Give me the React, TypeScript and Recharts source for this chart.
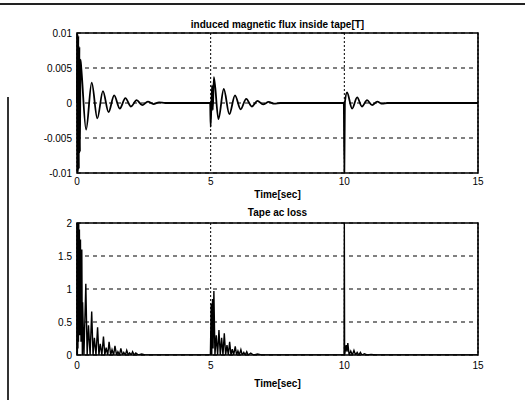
import { LineChart, Line, XAxis, YAxis, CartesianGrid, ReferenceArea } from "recharts";

// induced magnetic flux inside tape [T]
const fluxTime = [
  0, 0.01, 0.03, 0.05, 0.07, 0.09, 0.11, 0.13, 0.16, 0.34, 0.55, 0.76, 0.97, 1.18, 1.39, 1.6, 1.81, 2.02,
  2.23, 2.44, 2.65, 2.86, 3.07, 3.3, 4.98,
  5.0, 5.05, 5.08, 5.12, 5.29, 5.49, 5.7, 5.91, 6.12, 6.33, 6.54, 6.75, 6.96, 7.17, 7.38, 7.6, 9.98,
  10.0, 10.02, 10.1, 10.29, 10.48, 10.66, 10.85, 11.04, 11.23, 11.42, 11.6, 15,
];
const fluxValue = [
  0, 0.0099, -0.0099, 0.0096, -0.0094, 0.008, -0.007, 0.0062, 0.005, -0.0038, 0.0029, -0.0022, 0.0017, -0.0013,
  0.0011, -0.0008, 0.0007, -0.0005, 0.0004, -0.0003, 0.0002, -0.00015, 0.0001, 0, 0,
  -0.0034, 0.0025, -0.001, 0.0037, -0.0023, 0.002, -0.0016, 0.0011, -0.0009, 0.0006, -0.0005, 0.0003, -0.0002,
  0.00015, -0.0001, 0, 0,
  -0.0099, 0, 0.0015, -0.0008, 0.0008, -0.0005, 0.0004, -0.0003, 0.0002, -0.0001, 0, 0,
];

// tape ac loss
const lossTime = [
  0, 0.005, 0.015, 0.025, 0.035, 0.045, 0.055, 0.065, 0.075, 0.09, 0.11, 0.13, 0.15, 0.18, 0.2, 0.21, 0.26,
  0.33, 0.38, 0.43, 0.49, 0.55, 0.6, 0.65, 0.71, 0.77, 0.82, 0.87, 0.93, 0.99, 1.04, 1.09, 1.15, 1.2, 1.26,
  1.31, 1.37, 1.42, 1.48, 1.53, 1.59, 1.64, 1.7, 1.75, 1.81, 1.86, 1.92, 1.97, 2.03, 2.08, 2.14, 2.2, 2.3,
  2.42, 2.55, 4.99,
  5.02, 5.04, 5.07, 5.09, 5.12, 5.16, 5.21, 5.26, 5.31, 5.36, 5.41, 5.46, 5.51, 5.56, 5.61, 5.66, 5.71, 5.76,
  5.81, 5.86, 5.92, 5.97, 6.02, 6.07, 6.13, 6.18, 6.24, 6.29, 6.35, 6.4, 6.5, 6.6, 6.75, 6.9, 9.99,
  10.0, 10.01, 10.07, 10.1, 10.13, 10.18, 10.24, 10.3, 10.36, 10.42, 10.48, 10.54, 10.6, 10.66, 10.75, 10.85,
  11.0, 11.2, 15,
];
const lossValue = [
  0, 2, 0, 2, 0.1, 2, 0.2, 2, 0.3, 1.9, 0.3, 1.75, 0.2, 1.6, 0, 0.8, 0,
  1.08, 0, 0.45, 0, 0.66, 0, 0.26, 0, 0.42, 0, 0.17, 0, 0.28, 0, 0.11, 0, 0.2, 0,
  0.08, 0, 0.14, 0, 0.05, 0, 0.1, 0, 0.04, 0, 0.07, 0, 0.03, 0, 0.05, 0, 0.03, 0,
  0.015, 0, 0,
  0.78, 0, 0.85, 0.1, 0.97, 0, 0.3, 0, 0.38, 0, 0.26, 0, 0.33, 0, 0.15, 0, 0.2, 0,
  0.09, 0, 0.13, 0, 0.06, 0, 0.08, 0, 0.04, 0, 0.05, 0, 0.03, 0, 0.015, 0, 0,
  2, 0, 0.15, 0.05, 0.18, 0, 0.06, 0, 0.07, 0, 0.04, 0, 0.04, 0, 0.02, 0,
  0.01, 0, 0,
];

const timeTicks = [0, 5, 10, 15];
const fluxTicks = [-0.01, -0.005, 0, 0.005, 0.01];
const lossTicks = [0, 0.5, 1, 1.5, 2];

const fluxData = fluxTime.map((t, i) => ({ t, v: fluxValue[i] }));
const lossData = lossTime.map((t, i) => ({ t, v: lossValue[i] }));

const font = "'Liberation Sans', Arial, sans-serif";
const tick = { fill: "#000", fontSize: 10, fontFamily: font };
const fmtFlux = (v: number) => (v === 0.01 ? "0.01" : v === -0.01 ? "-0.01" : String(v));

export default function App() {
  return (
    <div style={{ position: "absolute", left: 0, top: 0, width: 525, height: 400, background: "#fff" }}>
      <div style={{ position: "absolute", left: 0, top: 3, width: 525, height: 2, background: "#222" }} />
      <div style={{ position: "absolute", left: 7, top: 97, width: 2, height: 303, background: "#333" }} />

      <div style={{ position: "absolute", left: 0, top: 0 }}>
        <LineChart width={525} height={200} data={fluxData} margin={{ top: 33, right: 47, bottom: 0, left: 17 }}>
          <CartesianGrid vertical={false} stroke="#000" strokeDasharray="4 4" />
          <CartesianGrid horizontal={false} stroke="#000" strokeDasharray="2 2" />
          <XAxis
            type="number"
            dataKey="t"
            domain={[0, 15]}
            ticks={timeTicks}
            axisLine={false}
            tickLine={false}
            tickSize={4}
            tickMargin={1}
            height={27}
            tick={tick}
            label={{ value: "Time[sec]", position: "insideBottom", offset: 2, fill: "#000", fontSize: 10, fontFamily: font, fontWeight: "bold" }}
          />
          <YAxis
            type="number"
            domain={[-0.01, 0.01]}
            ticks={fluxTicks}
            allowDataOverflow
            axisLine={false}
            tickLine={false}
            tickSize={4}
            tickMargin={1}
            width={60}
            tick={tick}
            tickFormatter={fmtFlux}
          />
          <Line type="monotone" dataKey="v" stroke="#000" strokeWidth={1.8} dot={false} isAnimationActive={false} />
          <ReferenceArea
            x1={0}
            x2={15}
            y1={-0.01}
            y2={0.01}
            fill="none"
            stroke="#000"
            strokeWidth={1.6}
            label={{ value: "induced magnetic flux inside tape[T]", position: "top", offset: 5, fill: "#000", fontSize: 10, fontFamily: font, fontWeight: "bold" }}
          />
        </LineChart>
      </div>

      <div style={{ position: "absolute", left: 0, top: 200 }}>
        <LineChart width={525} height={200} data={lossData} margin={{ top: 23, right: 47, bottom: 13, left: 17 }}>
          <CartesianGrid vertical={false} stroke="#000" strokeDasharray="4 4" />
          <CartesianGrid horizontal={false} stroke="#000" strokeDasharray="2 2" />
          <XAxis
            type="number"
            dataKey="t"
            domain={[0, 15]}
            ticks={timeTicks}
            axisLine={false}
            tickLine={false}
            tickSize={4}
            tickMargin={3}
            height={32}
            tick={tick}
            label={{ value: "Time[sec]", position: "insideBottom", offset: 0, fill: "#000", fontSize: 10, fontFamily: font, fontWeight: "bold" }}
          />
          <YAxis
            type="number"
            domain={[0, 2]}
            ticks={lossTicks}
            allowDataOverflow
            axisLine={false}
            tickLine={false}
            tickSize={4}
            tickMargin={1}
            width={60}
            tick={tick}
          />
          <Line type="linear" dataKey="v" stroke="#000" strokeWidth={1.4} dot={false} isAnimationActive={false} />
          <ReferenceArea
            x1={0}
            x2={15}
            y1={0}
            y2={2}
            fill="none"
            stroke="#000"
            strokeWidth={1.6}
            label={{ value: "Tape ac loss", position: "top", offset: 7, fill: "#000", fontSize: 10, fontFamily: font, fontWeight: "bold" }}
          />
        </LineChart>
      </div>
    </div>
  );
}
